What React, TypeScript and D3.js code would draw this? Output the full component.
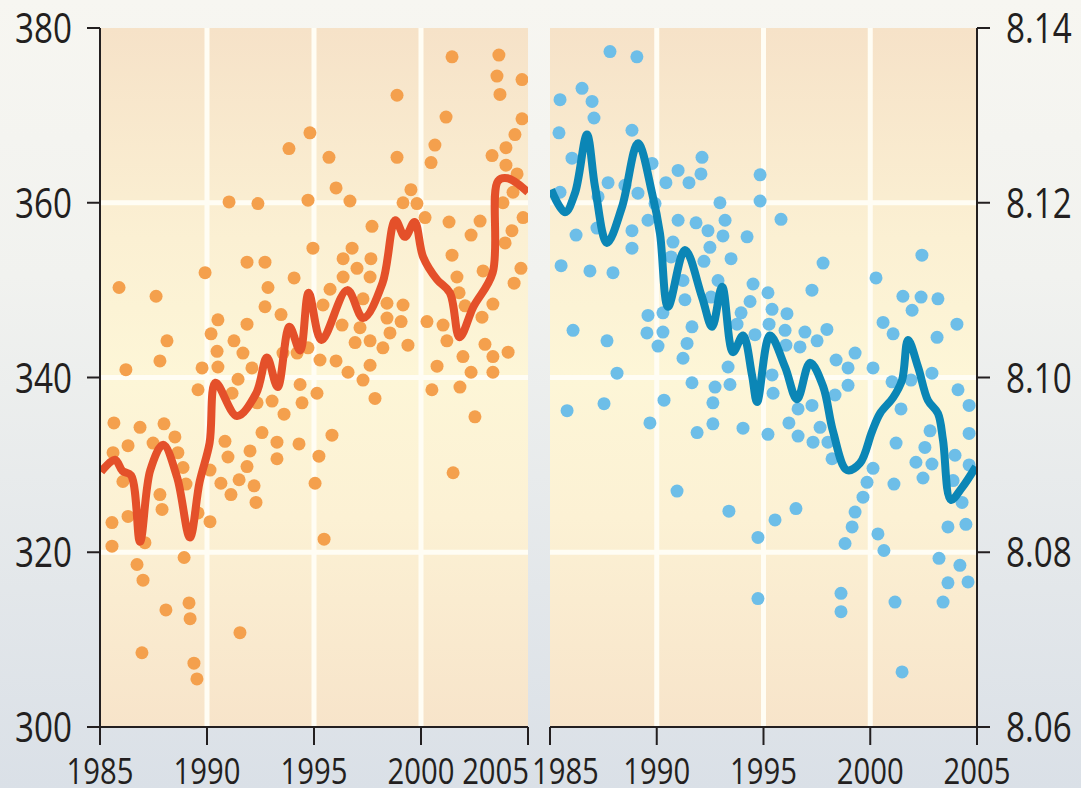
import React from "react";
import * as d3 from "d3";

// Axis tick values
const yearTicks = [1985, 1990, 1995, 2000, 2005];
const co2Ticks = [300, 320, 340, 360, 380];
const phTicks = [8.06, 8.08, 8.1, 8.12, 8.14];
const co2Grid = [320, 340, 360];
const phGrid = [8.08, 8.1, 8.12];
const yearGrid = [1990, 1995, 2000];

// Seawater pCO2 observations (year, µatm)
const co2Points: [number, number][] = [
  [1985.89, 350.3], [1987.62, 349.3], [1986.21, 340.9], [1987.8, 341.9], [1988.13, 344.2],
  [1989.91, 352.0], [1991.03, 360.1], [1992.38, 359.9], [1993.83, 366.2], [1994.81, 368.0],
  [1994.72, 360.3], [1994.95, 354.8], [1991.87, 353.2], [1992.71, 353.2], [1994.07, 351.4],
  [1992.85, 350.3], [1992.71, 348.1], [1993.46, 347.2], [1990.51, 346.6], [1991.87, 346.1],
  [1990.19, 345.0], [1991.26, 344.2], [1991.68, 342.8], [1990.47, 343.0], [1989.77, 341.1],
  [1990.51, 341.2], [1992.1, 341.1], [1994.21, 342.8], [1994.72, 343.4], [2001.45, 376.7],
  [2003.64, 376.9], [2003.55, 374.5], [2004.72, 374.1], [2003.69, 372.4], [1998.88, 372.3],
  [2001.17, 369.8], [2004.72, 369.6], [2000.65, 366.6], [2004.39, 367.8], [2003.97, 366.3],
  [2000.47, 364.6], [2003.32, 365.4], [2003.97, 364.3], [1995.7, 365.2], [1998.88, 365.2],
  [2004.49, 363.3], [1996.03, 361.7], [1996.68, 360.2], [1999.53, 361.5], [1999.16, 360.0],
  [1999.81, 359.9], [2004.3, 361.2], [2003.83, 360.0], [2000.19, 358.3], [1997.71, 357.3],
  [2001.31, 357.8], [2002.76, 357.9], [2002.34, 356.3], [2004.77, 358.3], [2004.25, 356.8],
  [2003.93, 355.4], [1996.78, 354.8], [1996.36, 353.6], [1997.66, 353.6], [1997.01, 352.5],
  [1997.62, 351.5], [1996.36, 351.5], [2001.45, 354.0], [2004.67, 352.5], [2004.35, 350.8],
  [2001.68, 351.5], [2002.9, 352.2], [1995.75, 350.1], [2001.78, 349.7], [1995.42, 348.3],
  [1997.29, 349.0], [1998.41, 348.5], [1999.16, 348.3], [2003.36, 348.4], [2002.06, 348.2],
  [1996.31, 346.0], [1997.15, 345.7], [1998.41, 346.8], [1999.07, 346.4], [2000.28, 346.4],
  [2001.03, 346.0], [2002.85, 346.9], [1998.55, 345.1], [1996.92, 344.0], [1997.62, 344.2],
  [1998.22, 343.4], [1999.39, 343.7], [2001.21, 344.2], [2002.99, 343.8], [2004.07, 342.9],
  [2003.36, 342.4], [2001.96, 342.4], [1995.28, 342.0], [1996.03, 341.9], [1996.59, 340.6],
  [1997.62, 341.4], [2000.75, 341.3], [2002.34, 340.6], [2003.36, 340.6], [1991.45, 339.8],
  [1989.58, 338.6], [1991.17, 338.2], [1992.34, 337.1], [1993.04, 337.3], [1994.35, 339.2],
  [1994.44, 337.1], [1995.14, 338.2], [1993.6, 335.8], [1997.29, 339.7], [1997.85, 337.6],
  [2000.51, 338.6], [2001.82, 338.9], [2002.52, 335.5], [2001.5, 329.1], [1985.65, 334.8],
  [1986.87, 334.3], [1987.99, 334.7], [1986.31, 332.2], [1987.48, 332.5], [1988.5, 333.2],
  [1985.61, 331.4], [1988.64, 331.4], [1988.88, 329.7], [1986.07, 328.1], [1987.8, 326.6],
  [1987.9, 324.9], [1986.31, 324.1], [1985.56, 323.4], [1990.14, 323.5], [1989.58, 324.5],
  [1987.1, 321.1], [1985.56, 320.7], [1990.84, 332.7], [1990.98, 330.9], [1992.01, 331.6],
  [1991.87, 329.8], [1990.14, 329.4], [1990.65, 327.9], [1991.12, 326.6], [1991.5, 328.3],
  [1992.2, 327.6], [1992.29, 325.7], [1992.57, 333.7], [1993.27, 332.6], [1993.27, 330.7],
  [1994.3, 332.4], [1995.84, 333.4], [1995.23, 331.0], [1995.05, 327.9], [1995.47, 321.5],
  [1988.93, 319.4], [1986.73, 318.6], [1987.01, 316.8], [1988.08, 313.4], [1989.16, 314.2],
  [1989.21, 312.4], [1991.54, 310.8], [1986.96, 308.5], [1989.39, 307.3], [1989.53, 305.5],
  [1993.55, 342.8], [1989.02, 327.8],
];

// Smoothed pCO2 trend (year, µatm)
const co2Trend: [number, number][] = [
  [1985.05, 329.2], [1985.7, 330.6], [1986.05, 329.3], [1986.45, 328.8], [1986.87, 321.2],
  [1987.35, 329.4], [1987.95, 332.3], [1988.6, 328.6], [1989.2, 321.7], [1989.65, 328.0],
  [1990.12, 332.5], [1990.4, 339.4], [1991.4, 335.6], [1992.3, 338.2], [1992.8, 342.3],
  [1993.3, 338.9], [1993.85, 345.8], [1994.35, 343.1], [1994.75, 349.7], [1995.35, 344.3],
  [1996.55, 350.0], [1997.3, 346.8], [1998.2, 350.8], [1998.8, 358.0], [1999.25, 356.1],
  [1999.7, 357.8], [2000.1, 353.8], [2000.75, 351.2], [2001.35, 349.7], [2001.8, 344.6],
  [2002.45, 348.1], [2003.35, 352.0], [2003.6, 362.5], [2004.05, 362.8], [2005.0, 361.2],
];

// Seawater pH observations (year, pH)
const phPoints: [number, number][] = [
  [1987.81, 8.1373], [1989.07, 8.1367], [1986.5, 8.1331], [1985.47, 8.1318], [1986.97, 8.1316],
  [1987.06, 8.1297], [1985.42, 8.128], [1988.84, 8.1283], [1986.03, 8.1251], [1989.78, 8.1245],
  [1992.12, 8.1252], [1991.0, 8.1237], [1992.07, 8.1233], [1990.43, 8.1223], [1991.51, 8.1223],
  [1987.72, 8.1223], [1994.84, 8.1232], [1994.84, 8.1202], [1985.47, 8.1212], [1989.12, 8.1211],
  [1988.51, 8.122], [1987.25, 8.1207], [1992.96, 8.12], [1993.2, 8.118], [1991.0, 8.118],
  [1991.84, 8.1177], [1992.4, 8.1168], [1993.1, 8.1162], [1994.23, 8.1161], [1986.22, 8.1163],
  [1988.84, 8.1168], [1989.59, 8.118], [1989.92, 8.1199], [1990.76, 8.1155], [1992.49, 8.1149],
  [1988.84, 8.1148], [1987.2, 8.1171], [1992.21, 8.1133], [1993.48, 8.1136], [1990.67, 8.1138],
  [1985.52, 8.1128], [1986.87, 8.1122], [1987.95, 8.112], [1994.51, 8.1107], [1994.37, 8.1087],
  [1991.23, 8.1111], [1992.87, 8.1111], [1991.32, 8.1089], [1992.54, 8.1092], [1993.95, 8.1074],
  [1989.59, 8.1071], [1990.29, 8.1074], [1989.54, 8.1051], [1990.29, 8.1052], [1991.65, 8.1058],
  [1990.06, 8.1036], [1991.42, 8.1039], [1991.23, 8.1022], [1986.08, 8.1054], [1987.67, 8.1042],
  [1988.14, 8.1005], [1993.34, 8.1012], [1993.76, 8.1061], [1994.6, 8.1049], [1995.82, 8.1181],
  [1997.79, 8.1131], [1997.27, 8.11], [2002.42, 8.114], [2000.27, 8.1114], [2001.53, 8.1093],
  [2002.38, 8.1092], [2003.17, 8.109], [2001.96, 8.1077], [2004.06, 8.1061], [2000.6, 8.1063],
  [2001.07, 8.105], [2003.13, 8.1046], [1995.21, 8.1097], [1995.4, 8.1078], [1996.1, 8.1073],
  [1995.26, 8.1061], [1996.01, 8.1054], [1996.94, 8.1052], [1997.97, 8.1055], [1997.51, 8.1042],
  [1996.71, 8.1035], [1996.05, 8.1037], [1998.4, 8.102], [1999.29, 8.1028], [1998.96, 8.1011],
  [2000.13, 8.1011], [2002.89, 8.1005], [1985.8, 8.0962], [1987.53, 8.097], [1990.34, 8.0974],
  [1989.68, 8.0948], [1991.65, 8.0994], [1992.73, 8.0989], [1993.43, 8.0992], [1992.63, 8.0971],
  [1991.89, 8.0937], [1992.63, 8.0947], [1994.04, 8.0942], [1995.21, 8.0935], [1995.45, 8.0982],
  [1995.4, 8.1003], [1996.62, 8.0964], [1997.27, 8.0968], [1996.19, 8.0948], [1996.62, 8.0933],
  [1997.65, 8.0943], [1997.32, 8.0926], [1998.02, 8.0926], [1998.35, 8.098], [1998.96, 8.0991],
  [1998.21, 8.0907], [2000.13, 8.0896], [1999.85, 8.088], [1999.66, 8.0863], [1999.29, 8.0846],
  [1999.15, 8.0829], [1998.82, 8.081], [2000.36, 8.0821], [2000.64, 8.0802], [2001.11, 8.0878],
  [2001.21, 8.0925], [2001.44, 8.0964], [2001.02, 8.0995], [2001.91, 8.0997], [2004.11, 8.0986],
  [2004.63, 8.0968], [2004.63, 8.0936], [2002.8, 8.0939], [2002.56, 8.092], [2002.14, 8.0903],
  [2002.89, 8.0901], [2002.47, 8.0885], [2003.97, 8.0911], [2004.63, 8.09], [2003.88, 8.0882],
  [2004.3, 8.0857], [2003.64, 8.0829], [2004.48, 8.0832], [2003.22, 8.0793], [2004.2, 8.0785],
  [2003.64, 8.0765], [2004.58, 8.0766], [2003.41, 8.0743], [2001.16, 8.0743], [2001.49, 8.0663],
  [1998.63, 8.0753], [1998.63, 8.0732], [1994.74, 8.0747], [1990.95, 8.087], [1993.38, 8.0847],
  [1995.54, 8.0837], [1996.52, 8.085], [1994.74, 8.0817],
];

// Smoothed pH trend (year, pH)
const phTrend: [number, number][] = [
  [1985.05, 8.1215], [1985.7, 8.1189], [1986.17, 8.1211], [1986.73, 8.1278], [1987.11, 8.1218],
  [1987.67, 8.1154], [1988.37, 8.1195], [1989.12, 8.1268], [1989.78, 8.1211], [1990.15, 8.1165],
  [1990.53, 8.1081], [1991.32, 8.1146], [1992.12, 8.1092], [1992.59, 8.1058], [1993.06, 8.1104],
  [1993.57, 8.1029], [1994.04, 8.1048], [1994.46, 8.1003], [1994.7, 8.0972], [1995.3, 8.1048],
  [1996.01, 8.1012], [1996.57, 8.0975], [1997.18, 8.1017], [1997.79, 8.099], [1998.26, 8.0938],
  [1998.91, 8.0894], [1999.52, 8.0902], [2000.08, 8.0938], [2000.46, 8.0959], [2001.07, 8.0977],
  [2001.49, 8.0997], [2001.77, 8.1043], [2002.24, 8.1012], [2002.7, 8.0974], [2003.17, 8.0959],
  [2003.41, 8.0928], [2003.78, 8.086], [2004.3, 8.0874], [2004.95, 8.0898],
];

const W = 1081;
const H = 788;
const TOP = 28;
const BOTTOM = 727;

const leftX = d3.scaleLinear().domain([1985, 2005]).range([100, 528]);
const rightX = d3.scaleLinear().domain([1985, 2005]).range([550, 977]);
const co2Y = d3.scaleLinear().domain([300, 380]).range([BOTTOM, TOP]);
const phY = d3.scaleLinear().domain([8.06, 8.14]).range([BOTTOM, TOP]);

// Condensed lettering: a humanist sans squeezed horizontally
const FONT = "'Open Sans', 'Liberation Sans', Arial, sans-serif";
const SQUEEZE = 0.79;
const INK = "#231f20";

type Scale = d3.ScaleLinear<number, number>;

function Label(props: { x: number; y: number; size: number; anchor: string; children: React.ReactNode }) {
  const { x, y, size, anchor, children } = props;
  return (
    <text
      transform={`translate(${x},${y}) scale(${SQUEEZE},1)`}
      fontSize={size}
      textAnchor={anchor}
      fontFamily={FONT}
      fill={INK}
    >
      {children}
    </text>
  );
}

function Panel(props: {
  x: Scale;
  y: Scale;
  hGrid: number[];
  points: [number, number][];
  trend: [number, number][];
  dot: string;
  line: string;
  id: string;
}) {
  const { x, y, hGrid, points, trend, dot, line, id } = props;
  const [x0, x1] = x.range();
  const path = d3
    .line<[number, number]>()
    .x((d) => x(d[0]))
    .y((d) => y(d[1]))
    .curve(d3.curveCatmullRom.alpha(0.5))(trend) as string;
  return (
    <g>
      <rect x={x0} y={TOP} width={x1 - x0} height={BOTTOM - TOP} fill="url(#plotFill)" />
      <g stroke="#fffdf4" strokeWidth={5}>
        {hGrid.map((v) => (
          <line key={`h${v}`} x1={x0} x2={x1} y1={y(v)} y2={y(v)} />
        ))}
        {yearGrid.map((v) => (
          <line key={`v${v}`} x1={x(v)} x2={x(v)} y1={TOP} y2={BOTTOM} />
        ))}
      </g>
      <clipPath id={id}>
        <rect x={x0} y={TOP} width={x1 - x0} height={BOTTOM - TOP} />
      </clipPath>
      <g clipPath={`url(#${id})`}>
        <g fill={dot}>
          {points.map((d, i) => (
            <circle key={i} cx={x(d[0])} cy={y(d[1])} r={6.5} />
          ))}
        </g>
        <path d={path} fill="none" stroke={line} strokeWidth={8} strokeLinejoin="round" strokeLinecap="butt" />
      </g>
    </g>
  );
}

export default function App() {
  const lastYear = yearTicks.length - 1;
  return (
    <svg
      width={W}
      height={H}
      viewBox={`0 0 ${W} ${H}`}
      style={{ position: "absolute", left: 0, top: 0, display: "block" }}
    >
      <defs>
        <linearGradient id="pageFill" x1="0" y1="0" x2="0" y2="1">
          <stop offset="0" stopColor="#f7f6f1" />
          <stop offset="0.35" stopColor="#f1f2ef" />
          <stop offset="1" stopColor="#dae0e7" />
        </linearGradient>
        <linearGradient id="plotFill" gradientUnits="userSpaceOnUse" x1="0" y1={TOP} x2="0" y2={BOTTOM}>
          <stop offset="0" stopColor="#f6e2c8" />
          <stop offset="0.3" stopColor="#fbf0d3" />
          <stop offset="0.5" stopColor="#fdf6d7" />
          <stop offset="0.7" stopColor="#fcf1d4" />
          <stop offset="1" stopColor="#f7e4ca" />
        </linearGradient>
      </defs>
      <rect x={0} y={0} width={W} height={H} fill="url(#pageFill)" />

      <Panel x={leftX} y={co2Y} hGrid={co2Grid} points={co2Points} trend={co2Trend} dot="#f4a04d" line="#e4502a" id="clipLeft" />
      <Panel x={rightX} y={phY} hGrid={phGrid} points={phPoints} trend={phTrend} dot="#6dbee8" line="#0b86b6" id="clipRight" />

      {/* Axes */}
      <g stroke={INK} strokeWidth={2} fill="none">
        <line x1={leftX(1985)} x2={leftX(1985)} y1={TOP} y2={BOTTOM} />
        <line x1={leftX(1985)} x2={leftX(2005)} y1={BOTTOM} y2={BOTTOM} />
        {co2Ticks.map((v) => (
          <line key={`lt${v}`} x1={leftX(1985) - 13} x2={leftX(1985)} y1={co2Y(v)} y2={co2Y(v)} />
        ))}
        {yearTicks.map((v) => (
          <line key={`lx${v}`} x1={leftX(v)} x2={leftX(v)} y1={BOTTOM} y2={BOTTOM + 18} />
        ))}
        <line x1={rightX(2005)} x2={rightX(2005)} y1={TOP} y2={BOTTOM} />
        <line x1={rightX(1985)} x2={rightX(2005)} y1={BOTTOM} y2={BOTTOM} />
        {phTicks.map((v) => (
          <line key={`rt${v}`} x1={rightX(2005)} x2={rightX(2005) + 13} y1={phY(v)} y2={phY(v)} />
        ))}
        {yearTicks.map((v) => (
          <line key={`rx${v}`} x1={rightX(v)} x2={rightX(v)} y1={BOTTOM} y2={BOTTOM + 18} />
        ))}
      </g>

      {co2Ticks.map((v) => (
        <Label key={`ll${v}`} x={leftX(1985) - 28} y={co2Y(v) + 15} size={42} anchor="end">
          {v}
        </Label>
      ))}
      {phTicks.map((v) => (
        <Label key={`rl${v}`} x={rightX(2005) + 29} y={phY(v) + 15} size={42} anchor="start">
          {v.toFixed(2)}
        </Label>
      ))}
      {yearTicks.map((v, i) => (
        <Label
          key={`lxl${v}`}
          x={i === lastYear ? leftX(v) + 1 : leftX(v)}
          y={784}
          size={37}
          anchor={i === lastYear ? "end" : "middle"}
        >
          {v}
        </Label>
      ))}
      {yearTicks.map((v, i) => (
        <Label
          key={`rxl${v}`}
          x={i === 0 ? rightX(v) - 18 : rightX(v)}
          y={784}
          size={37}
          anchor={i === 0 ? "start" : "middle"}
        >
          {v}
        </Label>
      ))}
    </svg>
  );
}
